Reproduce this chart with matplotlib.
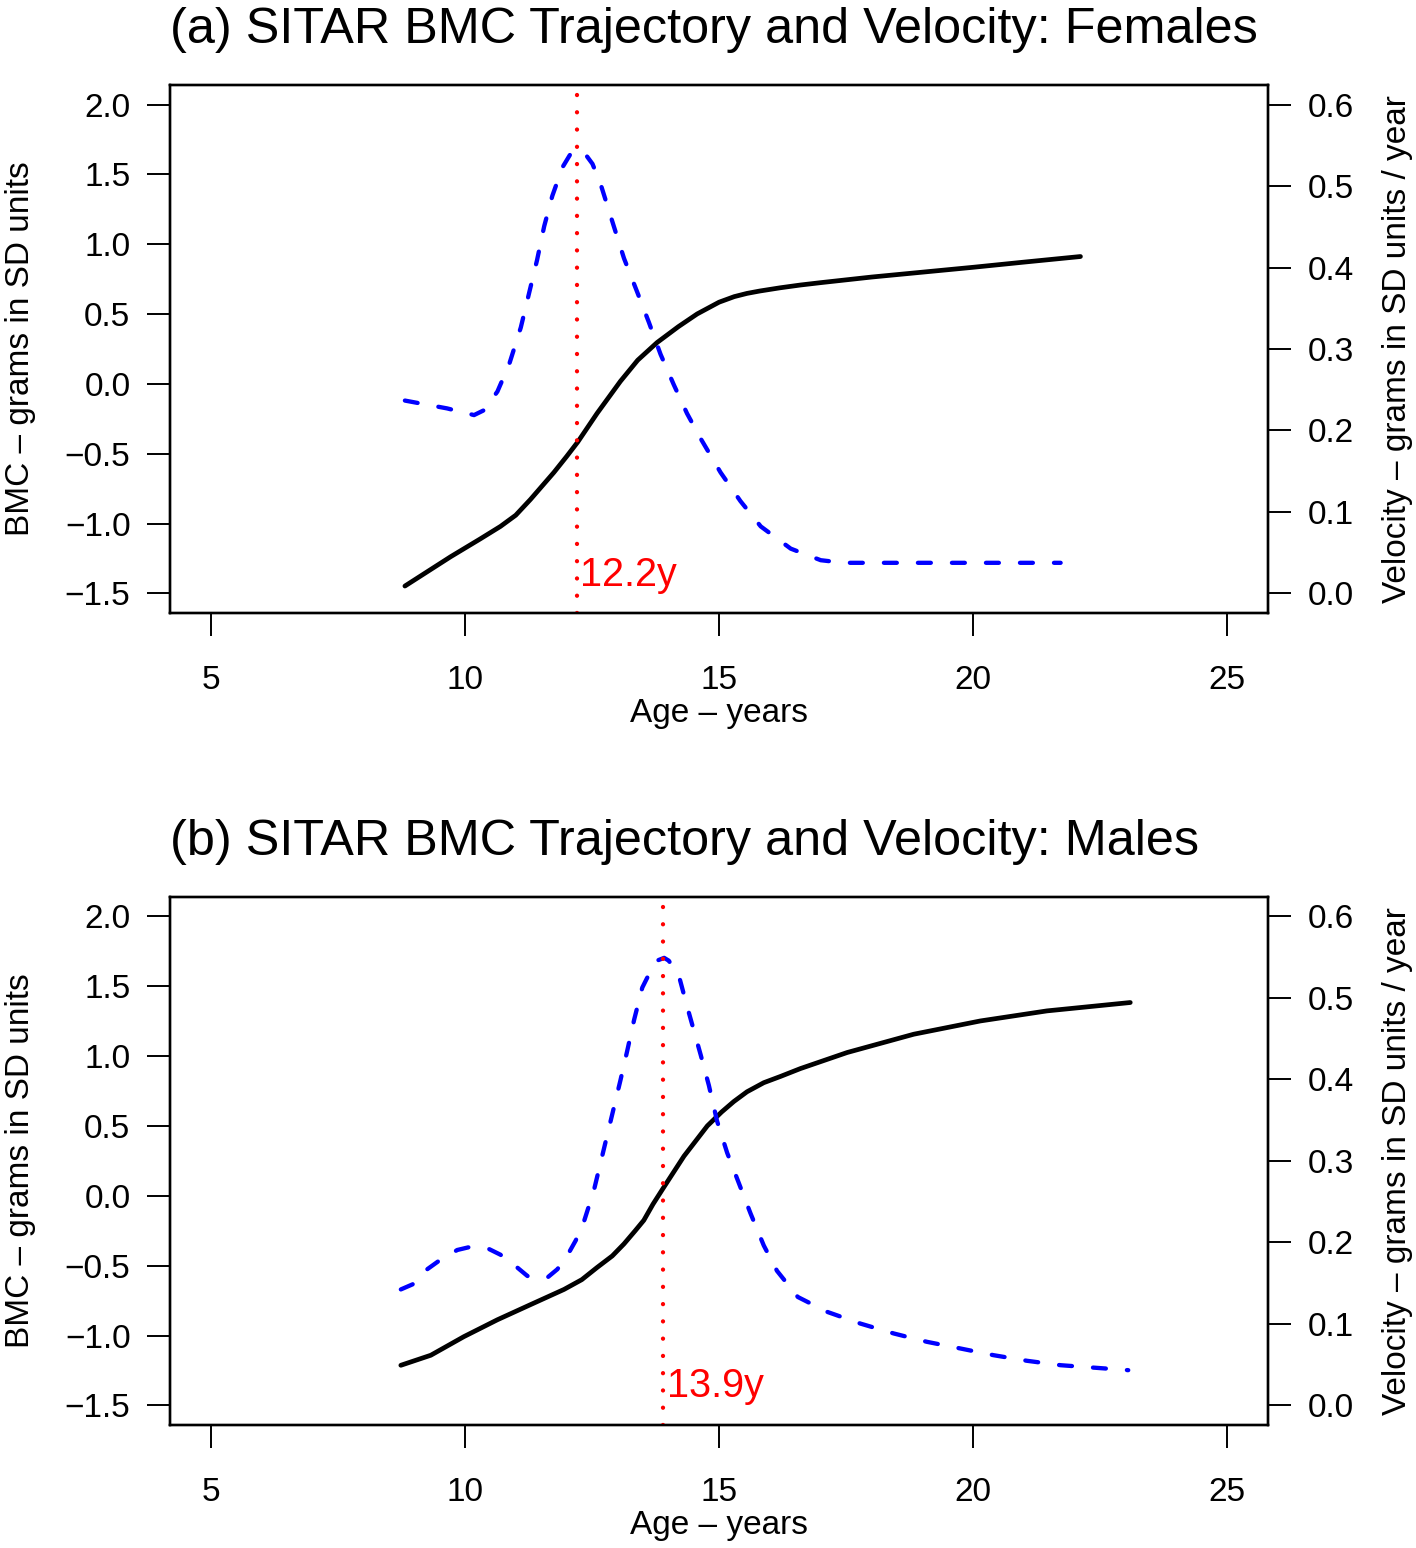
import matplotlib
matplotlib.use("Agg")
import matplotlib.pyplot as plt

plt.rcParams['font.family'] = ['Liberation Sans', 'DejaVu Sans']

# --- data ---
# females
f_bmc_age = [8.82, 9.72, 10.30, 10.70, 11.00, 11.29, 11.75, 12.00, 12.22, 12.60,
             13.06, 13.40, 13.78, 14.20, 14.57, 15.00, 15.30, 15.55, 15.80, 16.20,
             16.60, 17.00, 18.00, 19.00, 20.00, 21.00, 22.11]
f_bmc = [-1.447, -1.237, -1.110, -1.020, -0.940, -0.827, -0.634, -0.520, -0.416, -0.211,
         0.019, 0.170, 0.296, 0.410, 0.501, 0.585, 0.625, 0.648, 0.665, 0.688,
         0.708, 0.725, 0.765, 0.800, 0.835, 0.872, 0.912]
f_vel_age = [8.82, 9.65, 10.18, 10.38, 10.64, 10.87, 11.10, 11.26, 11.42, 11.56,
             11.72, 11.92, 12.08, 12.21, 12.34, 12.51, 12.67, 12.93, 13.13, 13.39,
             13.62, 13.85, 14.11, 14.37, 14.64, 15.03, 15.42, 15.82, 16.41, 17.00,
             17.45, 18.5, 20.0, 21.72]
f_vel = [0.2367, 0.2271, 0.2189, 0.2250, 0.2478, 0.2810, 0.3264, 0.3678, 0.4092, 0.4506,
         0.4879, 0.5230, 0.5396, 0.5435, 0.5416, 0.5272, 0.5024, 0.4506, 0.4113, 0.3699,
         0.3327, 0.2934, 0.2561, 0.2209, 0.1899, 0.1485, 0.1134, 0.0823, 0.0550, 0.0408,
         0.0376, 0.0376, 0.0376, 0.0376]
f_apv = 12.2

# males
m_bmc_age = [8.74, 9.33, 9.98, 10.64, 11.29, 11.95, 12.30, 12.60, 12.90, 13.13,
             13.35, 13.52, 13.70, 13.90, 14.31, 14.77, 15.05, 15.29, 15.55, 15.88,
             16.21, 16.60, 17.52, 18.83, 20.14, 21.45, 23.09]
m_bmc = [-1.213, -1.141, -1.008, -0.887, -0.779, -0.670, -0.600, -0.513, -0.430, -0.344,
         -0.250, -0.175, -0.060, 0.054, 0.284, 0.501, 0.600, 0.675, 0.745, 0.810,
         0.855, 0.911, 1.026, 1.157, 1.252, 1.324, 1.384]
m_vel_age = [8.74, 8.97, 9.26, 9.49, 9.85, 10.08, 10.47, 10.70, 11.03, 11.23,
             11.62, 11.82, 12.05, 12.18, 12.34, 12.54, 12.74, 12.90, 13.06, 13.19,
             13.33, 13.49, 13.59, 13.78, 13.92, 14.01, 14.21, 14.37, 14.51, 14.64,
             14.80, 14.96, 15.16, 15.39, 15.62, 15.88, 16.14, 16.55, 17.13, 17.78,
             18.44, 19.09, 19.75, 20.40, 21.06, 21.72, 23.05]
m_vel = [0.1423, 0.1485, 0.1671, 0.1774, 0.1907, 0.1941, 0.1920, 0.1849, 0.1692, 0.1588,
         0.1567, 0.1671, 0.1878, 0.2023, 0.2251, 0.2644, 0.3161, 0.3575, 0.3989, 0.4341,
         0.4734, 0.5127, 0.5252, 0.5458, 0.5492, 0.5458, 0.5272, 0.4899, 0.4589, 0.4299,
         0.3927, 0.3492, 0.3099, 0.2727, 0.2355, 0.1962, 0.1651, 0.1330, 0.1147, 0.1004,
         0.0882, 0.0780, 0.0698, 0.0616, 0.0547, 0.0493, 0.0432]
m_apv = 13.9

x_ticks = [5, 10, 15, 20, 25]
bmc_ticks = [-1.5, -1.0, -0.5, 0.0, 0.5, 1.0, 1.5, 2.0]
vel_ticks = [0.0, 0.1, 0.2, 0.3, 0.4, 0.5, 0.6]

FS = 24
fig = plt.figure(figsize=(14.16, 15.48), dpi=100)


def draw_panel(rect, title, bmc_age, bmc, vel_age, vel, apv):
    ax = fig.add_axes(rect)
    ax.plot(bmc_age, bmc, color='black', lw=3.4, solid_capstyle='round',
            solid_joinstyle='round')
    ax.set_xlim(4.2, 25.8)
    ax.set_ylim(-1.64, 2.14)
    ax.set_xticks(x_ticks)
    ax.set_yticks(bmc_ticks)
    for s in ax.spines.values():
        s.set_linewidth(1.7)
    ax.tick_params(axis='both', length=16.5, width=1.4, labelsize=FS)
    ax.tick_params(axis='x', pad=21)
    ax.tick_params(axis='y', pad=12)

    ax2 = ax.twinx()
    ax2.plot(vel_age, vel, color='blue', lw=3.1, linestyle=(0, (3.0, 4.9)),
             dash_capstyle='round', dash_joinstyle='round')
    ax2.set_ylim(-0.024, 0.624)
    ax2.set_yticks(vel_ticks)
    ax2.tick_params(axis='y', length=16.5, width=1.4, labelsize=FS, pad=12)
    for s in ax2.spines.values():
        s.set_linewidth(1.7)

    # age at peak velocity
    ax2.axvline(apv, color='red', lw=3.1, linestyle=(0, (0.01, 4.0)),
                dash_capstyle='round')
    ax2.annotate('%.1fy' % apv, xy=(apv, 0.052), xycoords=('data', 'axes fraction'),
                 xytext=(2.5, 0), textcoords='offset points', color='red',
                 fontsize=28.5, ha='left', va='baseline')

    ax.text(0.0, 1.080, title, transform=ax.transAxes, ha='left', va='baseline',
            fontsize=36.3)
    ax.text(0.5, -0.2064, 'Age \u2013 years', transform=ax.transAxes, ha='center',
            va='baseline', fontsize=FS)
    ax.text(-0.1366, 0.5, 'BMC \u2013 grams in SD units', transform=ax.transAxes,
            rotation=90, ha='center', va='center', fontsize=FS)
    ax.text(1.1175, 0.5, 'Velocity \u2013 grams in SD units / year', transform=ax.transAxes,
            rotation=90, ha='center', va='center', fontsize=FS)


draw_panel([0.1201, 0.6040, 0.7754, 0.3411],
           '(a) SITAR BMC Trajectory and Velocity: Females',
           f_bmc_age, f_bmc, f_vel_age, f_vel, f_apv)
draw_panel([0.1201, 0.0795, 0.7754, 0.3411],
           '(b) SITAR BMC Trajectory and Velocity: Males',
           m_bmc_age, m_bmc, m_vel_age, m_vel, m_apv)

plt.savefig('out.png', dpi=100)
